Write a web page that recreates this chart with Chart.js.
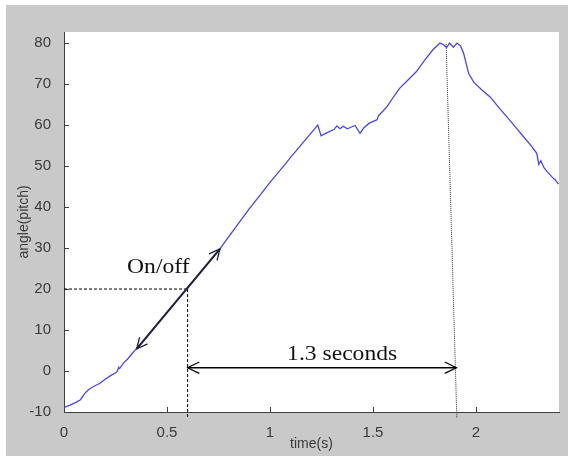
<!DOCTYPE html>
<html>
<head>
<meta charset="utf-8">
<script src="https://cdn.jsdelivr.net/npm/chart.js@4.4.1/dist/chart.umd.min.js"></script>
<style>
body { margin: 0; background: #fff; }
#pitch { display: block; }
</style>
</head>
<body>
<canvas id="pitch" width="568" height="456"></canvas>
<script>
// pitch angle trace
const timeS = [0, 0.03, 0.06, 0.08, 0.10, 0.12, 0.15, 0.175, 0.20, 0.23, 0.25, 0.26, 0.265, 0.27, 0.29, 0.31, 0.33, 0.35,
  0.38, 0.42, 0.46, 0.50, 0.55, 0.60, 0.65, 0.70, 0.757, 0.80, 0.85, 0.90, 0.95, 1.00, 1.05, 1.10, 1.15, 1.20,
  1.232, 1.248, 1.28, 1.31, 1.325, 1.34, 1.356, 1.375, 1.39, 1.413, 1.437, 1.455, 1.48, 1.51, 1.52, 1.527, 1.55,
  1.57, 1.60, 1.63, 1.67, 1.71, 1.75, 1.79, 1.825, 1.843, 1.857, 1.872, 1.89, 1.908, 1.925, 1.94, 1.955, 1.965,
  1.99, 2.03, 2.07, 2.11, 2.15, 2.19, 2.23, 2.27, 2.295, 2.305, 2.315, 2.33, 2.35, 2.37, 2.385, 2.40];
const pitch = [-8.9, -8.3, -7.6, -7.0, -5.5, -4.5, -3.6, -3.0, -2.0, -1.0, -0.5, 0.0, 0.9, 0.6, 2.0, 3.0, 4.2, 5.4,
  7.0, 9.4, 11.9, 14.3, 17.3, 20.2, 23.3, 26.4, 29.8, 32.8, 36.2, 39.6, 42.8, 46.0, 49.0, 52.1, 55.1, 58.1,
  60.0, 57.4, 58.2, 58.9, 59.8, 59.1, 59.7, 59.1, 59.4, 59.9, 58.0, 59.3, 60.4, 61.1, 61.3, 62.3, 63.5,
  64.6, 66.9, 69.0, 71.0, 73.0, 75.8, 78.3, 80.0, 79.6, 78.9, 80.0, 79.0, 80.0, 79.3, 77.5, 74.5, 72.5,
  70.4, 68.5, 66.8, 64.3, 62.0, 59.6, 57.2, 54.8, 53.1, 50.4, 51.3, 49.6, 48.4, 47.3, 46.6, 45.6];

const xTicks = [0, 0.5, 1, 1.5, 2];
const yTicks = [-10, 0, 10, 20, 30, 40, 50, 60, 70, 80];

// annotation anchors (data units)
const markPoint = [0.6, 20];          // dashed cross-hair
const onOffArrow = [0.353, 5.4, 0.757, 29.8];
const spanArrow = [0.6, 0.8, 1.905, 0.8];
const peakLine = [1.855, 79.8, 1.907, -11.5];
const onOffLabel = [0.306, 23.9];
const spanLabel = [1.083, 2.7];

function head(ctx, tx, ty, fx, fy, len, ang) {
  const a = Math.atan2(fy - ty, fx - tx);
  ctx.beginPath();
  ctx.moveTo(tx + len * Math.cos(a + ang), ty + len * Math.sin(a + ang));
  ctx.lineTo(tx, ty);
  ctx.lineTo(tx + len * Math.cos(a - ang), ty + len * Math.sin(a - ang));
  ctx.stroke();
}

function stretchText(ctx, txt, x, y) {
  ctx.save();
  ctx.translate(x, y);
  ctx.scale(1.18, 1);
  ctx.fillText(txt, 0, 0);
  ctx.restore();
}

const backdrop = {
  id: 'backdrop',
  beforeDraw(chart) {
    const ctx = chart.ctx, a = chart.chartArea;
    ctx.save();
    ctx.fillStyle = '#ffffff';
    ctx.fillRect(0, 0, chart.width, chart.height);
    ctx.fillStyle = '#c9c9c9';
    ctx.fillRect(6, 5, chart.width - 6, chart.height - 5);
    ctx.fillStyle = '#ffffff';
    ctx.fillRect(a.left, a.top, a.right - a.left, a.bottom - a.top);
    ctx.restore();
  }
};

const marks = {
  id: 'marks',
  afterDraw(chart) {
    const ctx = chart.ctx, x = chart.scales.x, y = chart.scales.y, a = chart.chartArea;
    ctx.save();

    // inward tick marks
    ctx.strokeStyle = '#404040';
    ctx.lineWidth = 1;
    x.ticks.forEach(t => {
      const px = Math.round(x.getPixelForValue(t.value)) + 0.5;
      ctx.beginPath(); ctx.moveTo(px, a.bottom); ctx.lineTo(px, a.bottom - 5); ctx.stroke();
    });
    y.ticks.forEach(t => {
      const py = Math.round(y.getPixelForValue(t.value)) + 0.5;
      ctx.beginPath(); ctx.moveTo(a.left, py); ctx.lineTo(a.left + 5, py); ctx.stroke();
    });

    // dashed cross-hair at the switch point
    const mx = x.getPixelForValue(markPoint[0]), my = y.getPixelForValue(markPoint[1]);
    ctx.strokeStyle = '#000';
    ctx.setLineDash([3, 2]);
    ctx.beginPath();
    ctx.moveTo(a.left, my); ctx.lineTo(mx, my);
    ctx.moveTo(mx, my); ctx.lineTo(mx, y.getPixelForValue(-11.5));
    ctx.stroke();

    // dotted line from the peak
    ctx.setLineDash([1, 1]);
    ctx.strokeStyle = '#333';
    ctx.beginPath();
    ctx.moveTo(x.getPixelForValue(peakLine[0]), y.getPixelForValue(peakLine[1]));
    ctx.lineTo(x.getPixelForValue(peakLine[2]), y.getPixelForValue(peakLine[3]));
    ctx.stroke();
    ctx.setLineDash([]);

    // 1.3 seconds span arrow
    const s1x = x.getPixelForValue(spanArrow[0]), s1y = y.getPixelForValue(spanArrow[1]);
    const s2x = x.getPixelForValue(spanArrow[2]), s2y = y.getPixelForValue(spanArrow[3]);
    ctx.strokeStyle = '#000';
    ctx.lineWidth = 1.5;
    ctx.beginPath(); ctx.moveTo(s1x, s1y); ctx.lineTo(s2x, s2y); ctx.stroke();
    ctx.lineWidth = 1.2;
    head(ctx, s1x, s1y, s2x, s2y, 13, 0.45);
    head(ctx, s2x, s2y, s1x, s1y, 13, 0.45);

    // on/off double arrow along the curve
    const o1x = x.getPixelForValue(onOffArrow[0]), o1y = y.getPixelForValue(onOffArrow[1]);
    const o2x = x.getPixelForValue(onOffArrow[2]), o2y = y.getPixelForValue(onOffArrow[3]);
    ctx.strokeStyle = '#22223a';
    ctx.lineWidth = 2;
    ctx.beginPath(); ctx.moveTo(o1x, o1y); ctx.lineTo(o2x, o2y); ctx.stroke();
    ctx.lineWidth = 1.3;
    head(ctx, o1x, o1y, o2x, o2y, 12, 0.45);
    head(ctx, o2x, o2y, o1x, o1y, 12, 0.45);

    // labels
    ctx.fillStyle = '#111';
    ctx.font = '20px "Liberation Serif", serif';
    ctx.textBaseline = 'alphabetic';
    stretchText(ctx, 'On/off', x.getPixelForValue(onOffLabel[0]), y.getPixelForValue(onOffLabel[1]));
    stretchText(ctx, '1.3 seconds', x.getPixelForValue(spanLabel[0]), y.getPixelForValue(spanLabel[1]));
    ctx.restore();
  }
};

const tickFont = { family: '"Liberation Sans", Arial, sans-serif', size: 15 };
const titleFont = { family: '"Liberation Sans", Arial, sans-serif', size: 14 };

new Chart(document.getElementById('pitch'), {
  type: 'line',
  data: {
    datasets: [{
      data: timeS.map((t, i) => ({ x: t, y: pitch[i] })),
      borderColor: '#4848dc',
      borderWidth: 1.3,
      pointRadius: 0,
      tension: 0,
      fill: false
    }]
  },
  options: {
    responsive: false,
    animation: false,
    layout: { padding: { left: 0, right: 9, top: 32, bottom: 0 } },
    plugins: { legend: { display: false }, tooltip: { enabled: false } },
    scales: {
      x: {
        type: 'linear',
        min: 0,
        max: 2.403,
        afterBuildTicks: s => { s.ticks = xTicks.map(v => ({ value: v })); },
        afterFit: s => { s.height = 44; },
        grid: { display: false },
        border: { display: true, color: '#404040', width: 1 },
        ticks: { color: '#3a3a3a', font: tickFont, padding: 4, maxRotation: 0, callback: v => String(v) },
        title: { display: true, text: 'time(s)', color: '#3a3a3a', font: titleFont, padding: { top: 0, bottom: 3.6 } }
      },
      y: {
        min: -10,
        max: 82.7,
        afterBuildTicks: s => { s.ticks = yTicks.map(v => ({ value: v })); },
        afterFit: s => { s.width = 64; },
        grid: { display: false },
        border: { display: true, color: '#404040', width: 1 },
        ticks: { color: '#3a3a3a', font: tickFont, padding: 5, callback: v => String(v) },
        title: { display: true, text: 'angle(pitch)', color: '#3a3a3a', font: titleFont, padding: { top: 15.6, bottom: 0 } }
      }
    }
  },
  plugins: [backdrop, marks]
});
</script>
</body>
</html>
